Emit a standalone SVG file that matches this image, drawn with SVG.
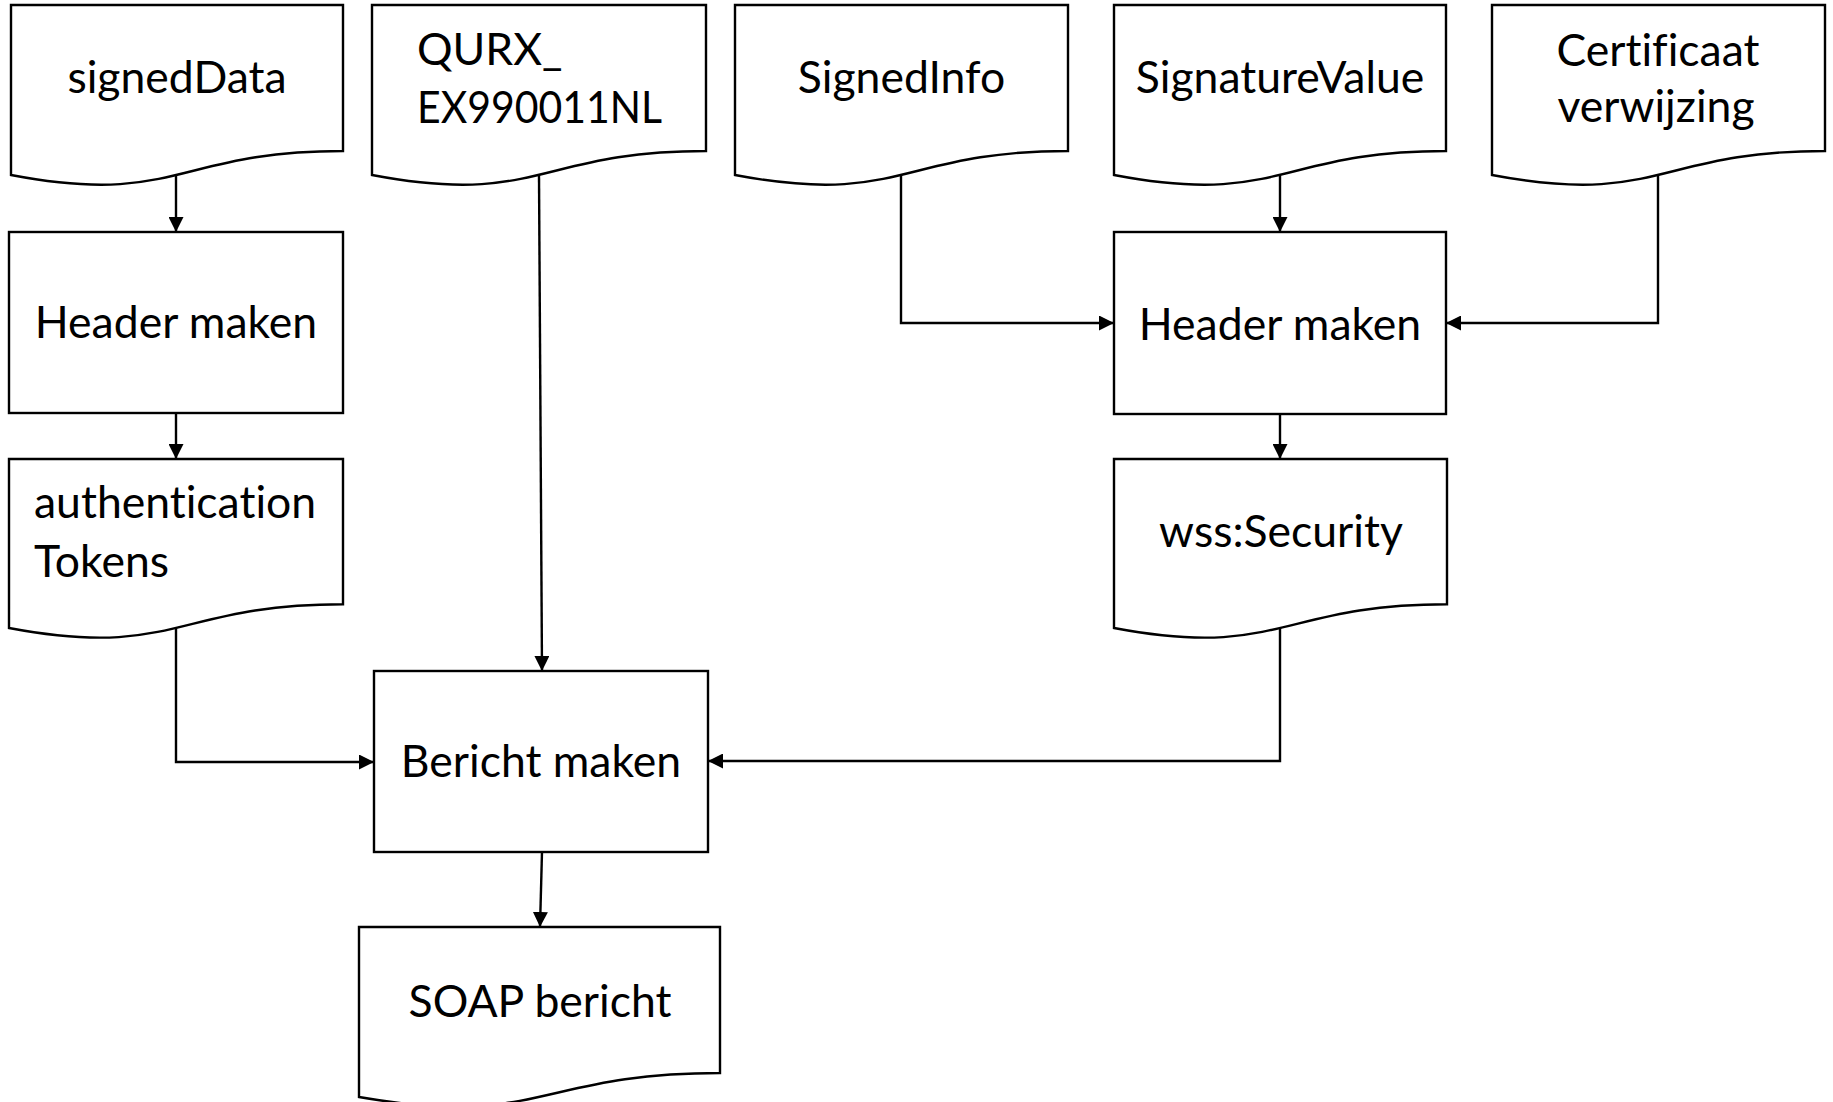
<svg xmlns="http://www.w3.org/2000/svg" width="1833" height="1102" viewBox="0 0 1833 1102">
  <style>
    .shape { fill: #ffffff; stroke: #000000; stroke-width: 2.4; }
    .label { font-family: Lato, "Liberation Sans", sans-serif; font-size: 44.5px; fill: #000000; font-variant-ligatures: none; }
    .mid { text-anchor: middle; }
    .wire { fill: none; stroke: #000000; stroke-width: 2.4; marker-end: url(#arrow); }
  </style>
  <defs>
    <marker id="arrow" markerUnits="userSpaceOnUse" markerWidth="16" markerHeight="15" refX="15" refY="7.5" orient="auto">
      <path d="M0,0 L15,7.5 L0,15 Z" fill="#000000"/>
    </marker>
  </defs>
  <rect width="1833" height="1102" fill="#ffffff"/>

  <!-- top row: input documents -->
  <g id="signedData">
    <path class="shape" d="M11,5 H343 V151 C177,151 177,206.6 11,175 Z"/>
    <text class="label mid" x="177" y="93">signedData</text>
  </g>
  <g id="qurx">
    <path class="shape" d="M372,5 H706 V151 C539,151 539,206.6 372,175 Z"/>
    <text class="label" x="417" y="65">QURX_</text>
    <text class="label" x="417" y="123" textLength="245" lengthAdjust="spacingAndGlyphs">EX990011NL</text>
  </g>
  <g id="signedInfo">
    <path class="shape" d="M735,5 H1068 V151 C901.5,151 901.5,206.6 735,175 Z"/>
    <text class="label mid" x="901.5" y="93">SignedInfo</text>
  </g>
  <g id="signatureValue">
    <path class="shape" d="M1114,5 H1446 V151 C1280,151 1280,206.6 1114,175 Z"/>
    <text class="label mid" x="1280" y="93">SignatureValue</text>
  </g>
  <g id="certificaat">
    <path class="shape" d="M1492,5 H1825 V151 C1658.5,151 1658.5,206.6 1492,175 Z"/>
    <text class="label mid" x="1658" y="66">Certificaat</text>
    <text class="label mid" x="1656" y="122">verwijzing</text>
  </g>

  <!-- process steps -->
  <g id="headerLeft">
    <rect class="shape" x="9" y="232" width="334" height="181"/>
    <text class="label mid" x="176" y="338">Header maken</text>
  </g>
  <g id="headerRight">
    <rect class="shape" x="1114" y="232" width="332" height="182"/>
    <text class="label mid" x="1280" y="340">Header maken</text>
  </g>

  <!-- intermediate documents -->
  <g id="authTokens">
    <path class="shape" d="M9,459 H343 V604.2 C176,604.2 176,659.5 9,628 Z"/>
    <text class="label" x="34" y="518">authentication</text>
    <text class="label" x="34" y="577">Tokens</text>
  </g>
  <g id="wssSecurity">
    <path class="shape" d="M1114,459 H1447 V604.2 C1280.5,604.2 1280.5,659.5 1114,628 Z"/>
    <text class="label mid" x="1281" y="547">wss:Security</text>
  </g>

  <g id="berichtMaken">
    <rect class="shape" x="374" y="671" width="334" height="181"/>
    <text class="label mid" x="541" y="777">Bericht maken</text>
  </g>

  <g id="soapBericht">
    <path class="shape" d="M359,927 H720 V1073 C539.5,1073 539.5,1128.6 359,1097 Z"/>
    <text class="label mid" x="540" y="1017">SOAP bericht</text>
  </g>

  <!-- connectors -->
  <g id="connectors">
    <path class="wire" d="M176,175 L176,232"/>
    <path class="wire" d="M176,413 L176,459"/>
    <path class="wire" d="M176,628 L176,762 L374,762"/>
    <path class="wire" d="M539,175 L542,671"/>
    <path class="wire" d="M542,852 L540,927"/>
    <path class="wire" d="M901,175 L901,323 L1114,323"/>
    <path class="wire" d="M1280,175 L1280,232"/>
    <path class="wire" d="M1658,175 L1658,323 L1446,323"/>
    <path class="wire" d="M1280,414 L1280,459"/>
    <path class="wire" d="M1280,628 L1280,761 L708,761"/>
  </g>
</svg>
